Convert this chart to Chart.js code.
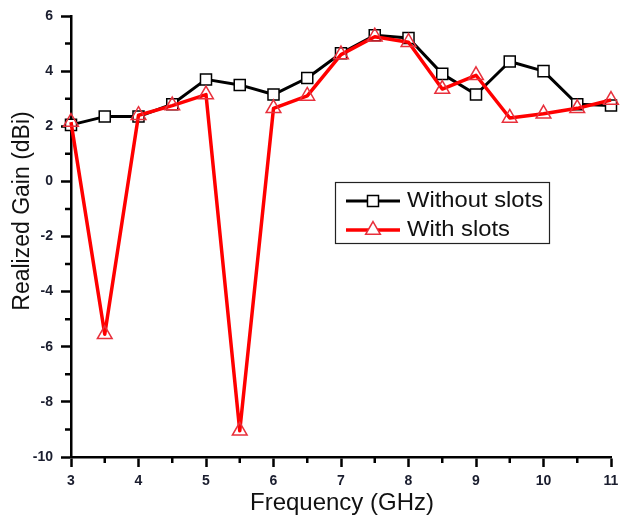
<!DOCTYPE html>
<html>
<head>
<meta charset="utf-8">
<script src="https://cdn.jsdelivr.net/npm/chart.js@4"></script>
<style>
  html, body { margin: 0; padding: 0; background: #fff; }
  #wrap { width: 621px; height: 518px; position: relative; }
</style>
</head>
<body>
<div id="wrap"><canvas id="gainChart"></canvas></div>
<script>
// frequency points (GHz)
const freqs = [3, 3.5, 4, 4.5, 5, 5.5, 6, 6.5, 7, 7.5, 8, 8.5, 9, 9.5, 10, 10.5, 11];
// realized gain (dBi)
const withoutSlots = [2.05, 2.35, 2.35, 2.8, 3.7, 3.5, 3.15, 3.75, 4.65, 5.3, 5.2, 3.9, 3.15, 4.35, 4.0, 2.8, 2.75];
const withSlots = [2.15, -5.55, 2.4, 2.75, 3.15, -9.05, 2.65, 3.1, 4.6, 5.25, 5.05, 3.35, 3.85, 2.3, 2.45, 2.65, 2.95];
const seriesNames = ['Without slots', 'With slots'];
const xTicks = [3, 4, 5, 6, 7, 8, 9, 10, 11];
const yTicks = [-10, -8, -6, -4, -2, 0, 2, 4, 6];

const FONT = '"Liberation Sans", Arial, sans-serif';
const toPoints = ys => freqs.map((f, i) => ({ x: f, y: ys[i] }));

// small in-between ticks, like the original plot
const minorTicks = {
  id: 'minorTicks',
  afterDraw(chart) {
    const ctx = chart.ctx, xs = chart.scales.x, ys = chart.scales.y;
    ctx.save();
    ctx.strokeStyle = '#000';
    ctx.lineWidth = 2.5;
    ctx.beginPath();
    for (let i = 0; i < xTicks.length - 1; i++) {
      const px = xs.getPixelForValue((xTicks[i] + xTicks[i + 1]) / 2);
      ctx.moveTo(px, xs.top);
      ctx.lineTo(px, xs.top + 6);
    }
    for (let i = 0; i < yTicks.length - 1; i++) {
      const py = ys.getPixelForValue((yTicks[i] + yTicks[i + 1]) / 2);
      ctx.moveTo(ys.right, py);
      ctx.lineTo(ys.right - 6, py);
    }
    ctx.stroke();
    ctx.restore();
  }
};

// axis titles + boxed legend
const decorations = {
  id: 'decorations',
  afterDraw(chart) {
    const ctx = chart.ctx;
    ctx.save();
    ctx.fillStyle = '#111';
    ctx.textAlign = 'center';
    ctx.textBaseline = 'middle';
    ctx.font = '24px ' + FONT;
    ctx.fillText('Frequency (GHz)', 342, 503);
    ctx.save();
    ctx.translate(23, 211);
    ctx.rotate(-Math.PI / 2);
    ctx.font = '23px ' + FONT;
    ctx.fillText('Realized Gain (dBi)', 0, 0);
    ctx.restore();

    // legend box
    ctx.strokeStyle = '#222';
    ctx.lineWidth = 1.2;
    ctx.strokeRect(335.5, 182.5, 214, 61);
    const rows = [201, 230];
    chart.data.datasets.forEach((ds, i) => {
      const y = rows[i];
      ctx.strokeStyle = ds.borderColor;
      ctx.lineWidth = ds.borderWidth;
      ctx.beginPath();
      ctx.moveTo(346, y);
      ctx.lineTo(400, y);
      ctx.stroke();
      ctx.fillStyle = '#fff';
      ctx.strokeStyle = ds.pointBorderColor;
      ctx.lineWidth = ds.pointBorderWidth;
      Chart.helpers.drawPoint(ctx, {
        pointStyle: ds.pointStyle,
        radius: ds.pointRadius,
        borderWidth: ds.pointBorderWidth
      }, 373, y);
      ctx.save();
      ctx.translate(407, y);
      ctx.scale(1.08, 1);
      ctx.fillStyle = '#111';
      ctx.textAlign = 'left';
      ctx.font = '22px ' + FONT;
      ctx.fillText(ds.label, 0, 0);
      ctx.restore();
    });
    ctx.restore();
  }
};

new Chart(document.getElementById('gainChart'), {
  type: 'line',
  data: {
    datasets: [
      {
        label: seriesNames[0],
        data: toPoints(withoutSlots),
        borderColor: '#000',
        borderWidth: 3,
        borderJoinStyle: 'round',
        pointStyle: 'rect',
        pointRadius: 7.8,
        pointBackgroundColor: '#fff',
        pointBorderColor: '#000',
        pointBorderWidth: 1.5,
        order: 2
      },
      {
        label: seriesNames[1],
        data: toPoints(withSlots),
        borderColor: '#ff0000',
        borderWidth: 3.5,
        borderJoinStyle: 'round',
        pointStyle: 'triangle',
        pointRadius: 8.5,
        pointBackgroundColor: 'rgba(255,255,255,0)',
        pointBorderColor: '#e8303c',
        pointBorderWidth: 1.5,
        order: 1
      }
    ]
  },
  options: {
    responsive: true,
    maintainAspectRatio: false,
    animation: false,
    clip: false,
    layout: { padding: { top: 16, right: 6, left: 0, bottom: 0 } },
    plugins: { legend: { display: false }, tooltip: { enabled: false } },
    elements: { line: { tension: 0 } },
    scales: {
      x: {
        type: 'linear',
        min: 3,
        max: 11,
        afterBuildTicks: s => { s.ticks = xTicks.map(v => ({ value: v })); },
        afterFit: s => { s.height = 61; s.paddingLeft = 0; s.paddingRight = 0; },
        border: { display: true, color: '#000', width: 2.5 },
        grid: { drawOnChartArea: false, color: '#000', tickLength: 10, tickWidth: 2.5 },
        ticks: { color: '#1a1d2e', padding: 6, font: { family: FONT, size: 14, weight: 'bold' } }
      },
      y: {
        min: -10,
        max: 6,
        afterBuildTicks: s => { s.ticks = yTicks.map(v => ({ value: v })); },
        afterFit: s => { s.width = 71; s.paddingTop = 0; s.paddingBottom = 0; },
        border: { display: true, color: '#000', width: 2.5 },
        grid: { drawOnChartArea: false, color: '#000', tickLength: 10, tickWidth: 2.5 },
        ticks: { color: '#1a1d2e', padding: 8, font: { family: FONT, size: 14, weight: 'bold' } }
      }
    }
  },
  plugins: [minorTicks, decorations]
});
</script>
</body>
</html>
